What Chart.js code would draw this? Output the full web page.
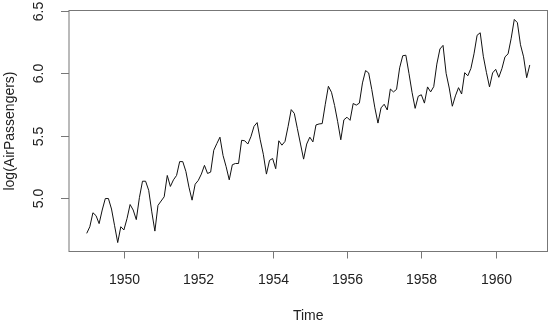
<!DOCTYPE html>
<html>
<head>
<meta charset="utf-8">
<script src="https://cdn.jsdelivr.net/npm/chart.js@4.4.1/dist/chart.umd.min.js"></script>
<style>
  html, body { margin: 0; padding: 0; background: #ffffff; }
  #wrap { width: 554px; height: 324px; }
</style>
</head>
<body>
<div id="wrap"><canvas id="c" width="554" height="324"></canvas></div>
<script>
// Monthly log(AirPassengers), January 1949 to December 1960
const startYear = 1949;
const logPassengers = [
  4.718, 4.771, 4.883, 4.860, 4.796, 4.905, 4.997, 4.997, 4.913, 4.779, 4.644, 4.771,
  4.745, 4.836, 4.949, 4.905, 4.828, 5.004, 5.136, 5.136, 5.063, 4.890, 4.736, 4.942,
  4.977, 5.011, 5.182, 5.094, 5.147, 5.182, 5.293, 5.293, 5.215, 5.088, 4.984, 5.112,
  5.142, 5.193, 5.263, 5.198, 5.209, 5.384, 5.438, 5.489, 5.342, 5.252, 5.147, 5.268,
  5.278, 5.278, 5.464, 5.460, 5.434, 5.493, 5.576, 5.606, 5.468, 5.352, 5.193, 5.303,
  5.318, 5.236, 5.460, 5.425, 5.455, 5.576, 5.710, 5.680, 5.557, 5.434, 5.313, 5.434,
  5.489, 5.451, 5.587, 5.595, 5.598, 5.753, 5.897, 5.849, 5.743, 5.613, 5.468, 5.628,
  5.649, 5.624, 5.759, 5.746, 5.762, 5.924, 6.023, 6.004, 5.872, 5.724, 5.602, 5.724,
  5.753, 5.707, 5.875, 5.852, 5.872, 6.045, 6.142, 6.146, 6.001, 5.849, 5.720, 5.817,
  5.829, 5.762, 5.892, 5.852, 5.894, 6.075, 6.196, 6.225, 6.001, 5.883, 5.737, 5.820,
  5.886, 5.835, 6.006, 5.981, 6.040, 6.157, 6.306, 6.326, 6.138, 6.009, 5.892, 6.004,
  6.033, 5.969, 6.038, 6.133, 6.157, 6.282, 6.433, 6.407, 6.230, 6.133, 5.966, 6.068
];
const xTickLabels = [1950, 1952, 1954, 1956, 1958, 1960];
const yTickLabels = [5.0, 5.5, 6.0, 6.5];

const points = logPassengers.map((v, i) => ({ x: startYear + i / 12, y: v }));

// Data range padded by 4% on each side
const xMinData = startYear, xMaxData = startYear + (logPassengers.length - 1) / 12;
const yMinData = Math.min(...logPassengers), yMaxData = Math.max(...logPassengers);
const xPad = (xMaxData - xMinData) * 0.04, yPad = (yMaxData - yMinData) * 0.04;

const FONT = '14px "Liberation Sans", Arial, sans-serif';
const INK = '#222222';
const FRAME = '#777777';

// Frame, ticks and labels drawn against the chart's scales
const framePlugin = {
  id: 'frame',
  afterDraw(chart) {
    const { ctx, chartArea: a, scales } = chart;
    const xs = scales.x, ys = scales.y;
    ctx.save();
    ctx.strokeStyle = FRAME;
    ctx.lineWidth = 1;
    ctx.strokeRect(a.left, a.top, a.right - a.left, a.bottom - a.top);

    ctx.font = FONT;
    ctx.fillStyle = INK;

    // x axis ticks and labels
    ctx.textAlign = 'center';
    ctx.textBaseline = 'alphabetic';
    xTickLabels.forEach(t => {
      const px = Math.round(xs.getPixelForValue(t)) + 0.5;
      ctx.beginPath();
      ctx.moveTo(px, a.bottom);
      ctx.lineTo(px, a.bottom + 7);
      ctx.stroke();
      ctx.fillText(String(t), px, 283.5);
    });

    // y axis ticks and rotated labels
    yTickLabels.forEach(t => {
      const py = Math.round(ys.getPixelForValue(t)) + 0.5;
      ctx.beginPath();
      ctx.moveTo(a.left, py);
      ctx.lineTo(a.left - 8, py);
      ctx.stroke();
      ctx.save();
      ctx.translate(43, py);
      ctx.rotate(-Math.PI / 2);
      ctx.textAlign = 'center';
      ctx.fillText(t.toFixed(1), 0, 0);
      ctx.restore();
    });

    // axis titles
    ctx.textAlign = 'center';
    ctx.fillText('Time', (a.left + a.right) / 2, 319.5);
    ctx.save();
    ctx.translate(14, (a.top + a.bottom) / 2);
    ctx.rotate(-Math.PI / 2);
    ctx.fillText('log(AirPassengers)', 0, 0);
    ctx.restore();
    ctx.restore();
  }
};

new Chart(document.getElementById('c'), {
  type: 'line',
  data: {
    datasets: [{
      data: points,
      borderColor: '#111111',
      borderWidth: 1,
      pointRadius: 0,
      tension: 0,
      fill: false
    }]
  },
  options: {
    responsive: false,
    animation: false,
    devicePixelRatio: 1,
    layout: { padding: { left: 69, top: 10.5, right: 6.5, bottom: 72.5 } },
    plugins: { legend: { display: false }, tooltip: { enabled: false } },
    scales: {
      x: { type: 'linear', display: false, min: xMinData - xPad, max: xMaxData + xPad },
      y: { type: 'linear', display: false, min: yMinData - yPad, max: yMaxData + yPad }
    }
  },
  plugins: [framePlugin]
});
</script>
</body>
</html>
